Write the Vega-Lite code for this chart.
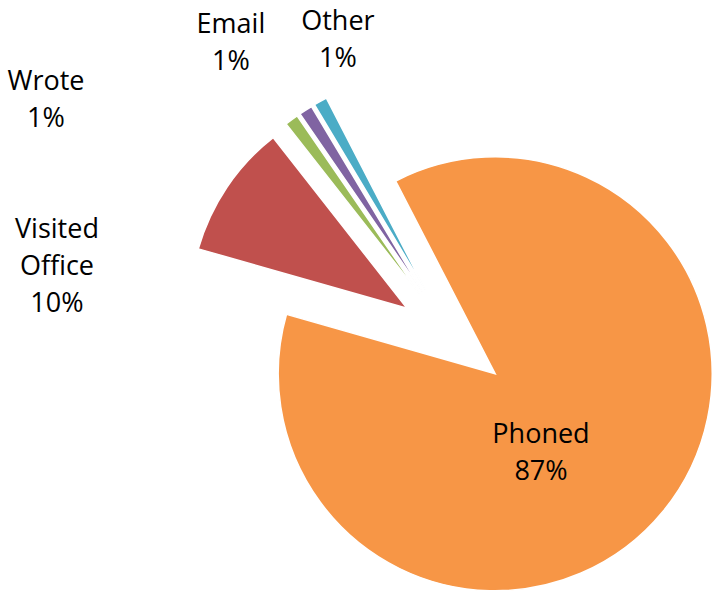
{
  "$schema": "https://vega.github.io/schema/vega-lite/v6.json",
  "width": 713,
  "height": 592,
  "padding": 0,
  "autosize": {"type": "none"},
  "background": "white",
  "config": {"view": {"stroke": null}},
  "data": {
    "values": [
      {"method": "Phoned", "pct": 87, "i": 1, "label": "Phoned\n87%"},
      {"method": "Visited Office", "pct": 10, "i": 2, "label": "Visited\nOffice\n10%"},
      {"method": "Wrote", "pct": 1, "i": 3, "label": "Wrote\n1%"},
      {"method": "Email", "pct": 1, "i": 4, "label": "Email\n1%"},
      {"method": "Other", "pct": 1, "i": 5, "label": "Other\n1%"}
    ]
  },
  "encoding": {
    "theta": {"field": "pct", "type": "quantitative", "stack": true, "scale": {"domain": [0, 100], "range": [5.8067, 12.0899]}},
    "order": {"field": "i", "type": "quantitative"}
  },
  "layer": [
    {
      "mark": {"type": "arc", "outerRadius": 217, "xOffset": 138.7, "yOffset": 77.8, "stroke": "white", "strokeWidth": 1.5},
      "encoding": {
        "color": {"field": "method", "type": "nominal", "legend": null, "scale": {"domain": ["Phoned", "Visited Office", "Wrote", "Email", "Other"], "range": ["#F79646", "#C0504D", "#9BBB59", "#8064A2", "#4BACC6"]}},
        "opacity": {"condition": {"test": "datum.method === 'Phoned'", "value": 1}, "value": 0}
      }
    },
    {
      "mark": {"type": "arc", "outerRadius": 217, "xOffset": 50.5, "yOffset": 12.3, "stroke": "white", "strokeWidth": 1.5},
      "encoding": {
        "color": {"field": "method", "type": "nominal", "legend": null},
        "opacity": {"condition": {"test": "datum.method === 'Visited Office'", "value": 1}, "value": 0}
      }
    },
    {
      "mark": {"type": "arc", "outerRadius": 217, "xOffset": 63.5, "yOffset": -1.3, "stroke": "white", "strokeWidth": 1.5},
      "encoding": {
        "color": {"field": "method", "type": "nominal", "legend": null},
        "opacity": {"condition": {"test": "datum.method === 'Wrote'", "value": 1}, "value": 0}
      }
    },
    {
      "mark": {"type": "arc", "outerRadius": 217, "xOffset": 66.4, "yOffset": -3.3, "stroke": "white", "strokeWidth": 1.5},
      "encoding": {
        "color": {"field": "method", "type": "nominal", "legend": null},
        "opacity": {"condition": {"test": "datum.method === 'Email'", "value": 1}, "value": 0}
      }
    },
    {
      "mark": {"type": "arc", "outerRadius": 217, "xOffset": 69.4, "yOffset": -5.1, "stroke": "white", "strokeWidth": 1.5},
      "encoding": {
        "color": {"field": "method", "type": "nominal", "legend": null},
        "opacity": {"condition": {"test": "datum.method === 'Other'", "value": 1}, "value": 0}
      }
    },
    {
      "mark": {"type": "text", "radius": 141.5, "xOffset": 96.1, "yOffset": 43, "dx": -21.1, "dy": 6, "font": "Open Sans", "fontSize": 27, "lineBreak": "\n", "lineHeight": 37, "color": "black"},
      "encoding": {
        "text": {"condition": {"test": "datum.method === 'Phoned'", "field": "label"}, "value": ""}
      }
    },
    {
      "mark": {"type": "text", "radius": 366.8, "xOffset": 96.1, "yOffset": 43, "dx": -91.2, "dy": 96, "font": "Open Sans", "fontSize": 27, "lineBreak": "\n", "lineHeight": 37, "color": "black"},
      "encoding": {
        "text": {"condition": {"test": "datum.method === 'Visited Office'", "field": "label"}, "value": ""}
      }
    },
    {
      "mark": {"type": "text", "radius": 432.5, "xOffset": 96.1, "yOffset": 43, "dx": -150.6, "dy": 91.6, "font": "Open Sans", "fontSize": 27, "lineBreak": "\n", "lineHeight": 37, "color": "black"},
      "encoding": {
        "text": {"condition": {"test": "datum.method === 'Wrote'", "field": "label"}, "value": ""}
      }
    },
    {
      "mark": {"type": "text", "radius": 367.8, "xOffset": 96.1, "yOffset": 43, "dx": -23, "dy": -4.7, "font": "Open Sans", "fontSize": 27, "lineBreak": "\n", "lineHeight": 37, "color": "black"},
      "encoding": {
        "text": {"condition": {"test": "datum.method === 'Email'", "field": "label"}, "value": ""}
      }
    },
    {
      "mark": {"type": "text", "radius": 317, "xOffset": 96.1, "yOffset": 43, "dx": 39.5, "dy": -39.9, "font": "Open Sans", "fontSize": 27, "lineBreak": "\n", "lineHeight": 37, "color": "black"},
      "encoding": {
        "text": {"condition": {"test": "datum.method === 'Other'", "field": "label"}, "value": ""}
      }
    }
  ]
}
